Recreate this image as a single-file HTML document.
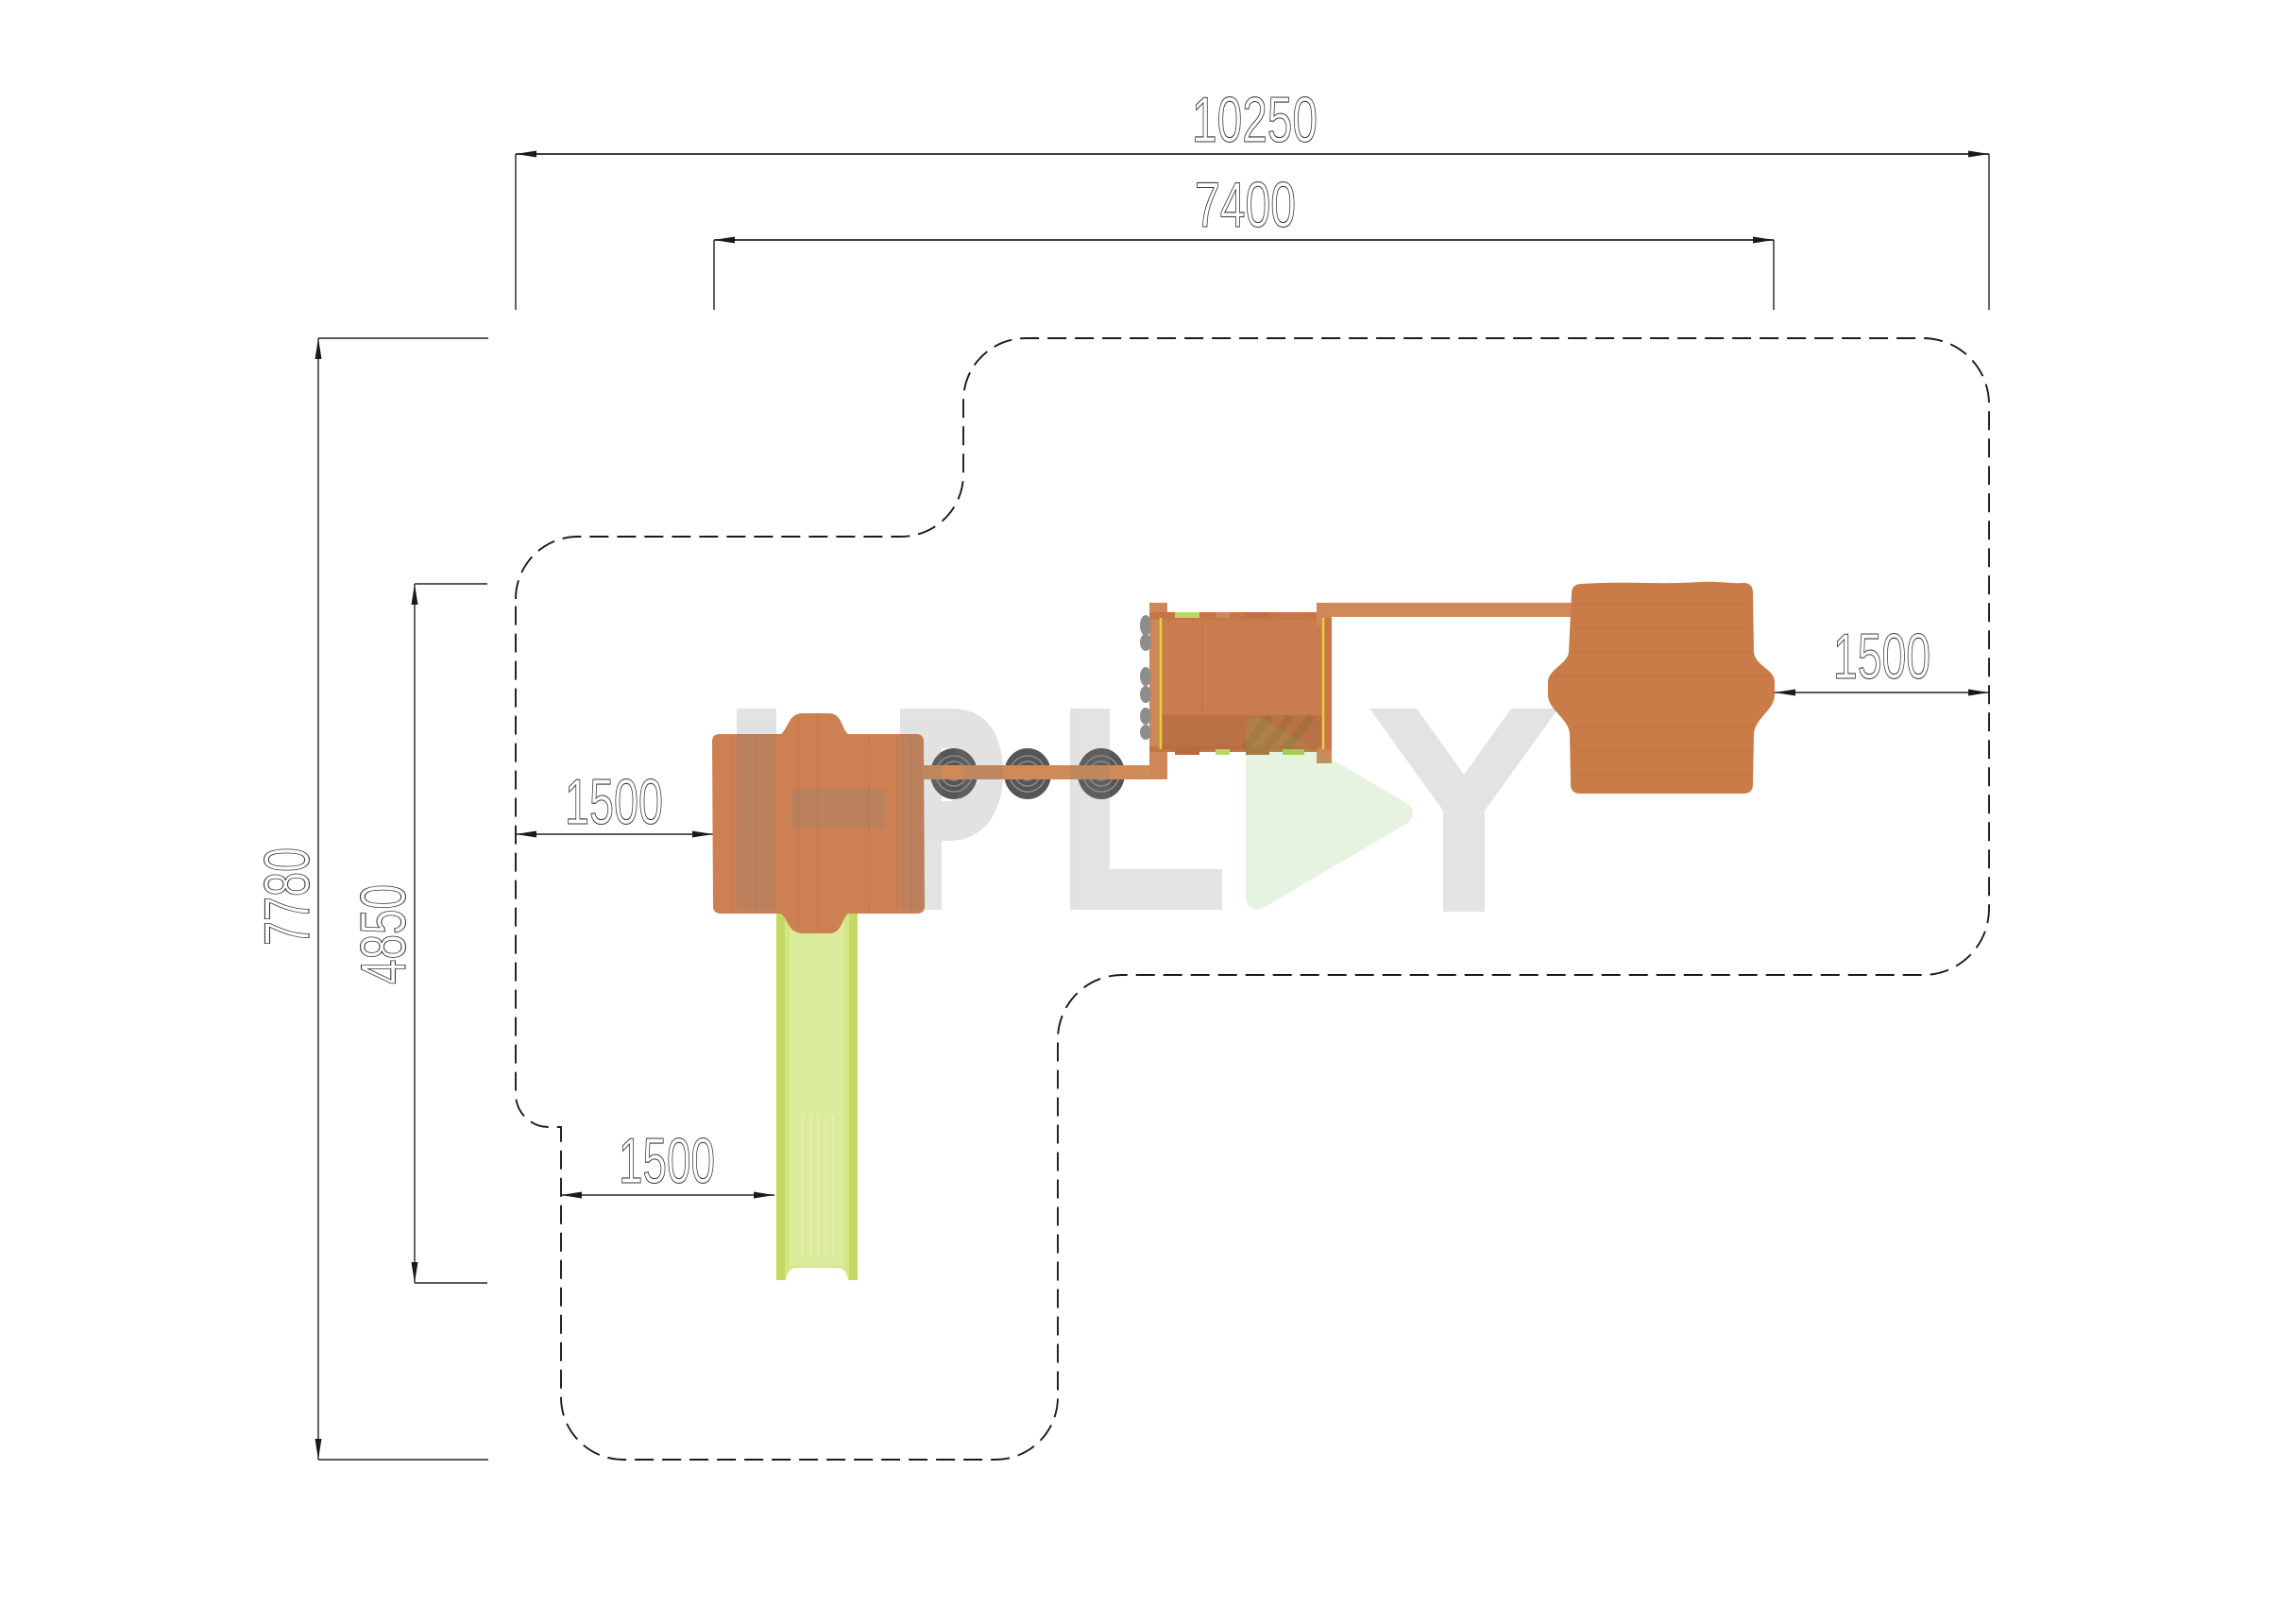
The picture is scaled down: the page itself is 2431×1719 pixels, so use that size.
<!DOCTYPE html>
<html><head><meta charset="utf-8"><style>
html,body{margin:0;padding:0;background:#fff;}
svg{display:block;}
.t{font-family:"Liberation Sans",sans-serif;font-size:68px;fill:none;stroke:#3a3a3a;stroke-width:1.1;}
</style></head><body>
<svg width="2431" height="1719" viewBox="0 0 2431 1719" xmlns="http://www.w3.org/2000/svg">
<rect width="2431" height="1719" fill="#fff"/>

<!-- dashed safety zone -->
<path d="M 546 634 A 66 66 0 0 1 612 568 L 954 568 A 66 66 0 0 0 1020 502 L 1020 424 A 66 66 0 0 1 1086 358 L 2036 358 A 70 70 0 0 1 2106 428 L 2106 962 A 70 70 0 0 1 2036 1032 L 1188 1032 A 68 68 0 0 0 1120 1100 L 1120 1479 A 66 66 0 0 1 1054 1545 L 660 1545 A 66 66 0 0 1 594 1479 L 594 1193 L 581 1193 A 35 35 0 0 1 546 1158 Z" fill="none" stroke="#1a1a1a" stroke-width="1.9" stroke-dasharray="20 9"/>

<!-- dimension lines -->
<g stroke="#222" stroke-width="1.4" fill="none">
  <line x1="546" y1="163" x2="2106" y2="163" stroke-width="1.7"/>
  <line x1="546" y1="163" x2="546" y2="328"/>
  <line x1="2106" y1="163" x2="2106" y2="328"/>
  <line x1="756" y1="254" x2="1878" y2="254" stroke-width="1.7"/>
  <line x1="756" y1="254" x2="756" y2="328"/>
  <line x1="1878" y1="254" x2="1878" y2="328"/>
  <line x1="337" y1="358" x2="337" y2="1545"/>
  <line x1="337" y1="358" x2="517" y2="358"/>
  <line x1="337" y1="1545" x2="517" y2="1545"/>
  <line x1="439" y1="618" x2="439" y2="1358"/>
  <line x1="439" y1="618" x2="516" y2="618"/>
  <line x1="439" y1="1358" x2="516" y2="1358"/>
  <line x1="546" y1="883" x2="755" y2="883"/>
  <line x1="594" y1="1265" x2="820" y2="1265"/>
  <line x1="1879" y1="733" x2="2106" y2="733"/>
</g>
<g fill="#1a1a1a">
  <polygon points="546,163 568,159.5 568,166.5"/>
  <polygon points="2106,163 2084,159.5 2084,166.5"/>
  <polygon points="756,254 778,250.5 778,257.5"/>
  <polygon points="1878,254 1856,250.5 1856,257.5"/>
  <polygon points="337,358 333.5,380 340.5,380"/>
  <polygon points="337,1545 333.5,1523 340.5,1523"/>
  <polygon points="439,618 435.5,640 442.5,640"/>
  <polygon points="439,1358 435.5,1336 442.5,1336"/>
  <polygon points="546,883 568,879.5 568,886.5"/>
  <polygon points="755,883 733,879.5 733,886.5"/>
  <polygon points="594,1265 616,1261.5 616,1268.5"/>
  <polygon points="820,1265 798,1261.5 798,1268.5"/>
  <polygon points="1879,733 1901,729.5 1901,736.5"/>
  <polygon points="2106,733 2084,729.5 2084,736.5"/>
</g>

<!-- labels -->
<text class="t" x="1262" y="150" textLength="133" lengthAdjust="spacingAndGlyphs">10250</text>
<text class="t" x="1265" y="240" textLength="107" lengthAdjust="spacingAndGlyphs">7400</text>
<text class="t" x="598" y="872" textLength="104" lengthAdjust="spacingAndGlyphs">1500</text>
<text class="t" x="655" y="1252" textLength="102" lengthAdjust="spacingAndGlyphs">1500</text>
<text class="t" x="1941" y="718" textLength="103" lengthAdjust="spacingAndGlyphs">1500</text>
<text class="t" transform="translate(327,1001) rotate(-90)" x="0" y="0" textLength="104" lengthAdjust="spacingAndGlyphs">7780</text>
<text class="t" transform="translate(429,1042) rotate(-90)" x="0" y="0" textLength="106" lengthAdjust="spacingAndGlyphs">4850</text>

<!-- slide -->
<path d="M 822 960 L 908 960 L 908 1355 L 898 1355 Q 896 1343 888 1342 L 842 1342 Q 834 1343 832 1355 L 822 1355 Z" fill="#d3e684"/>
<rect x="822" y="960" width="9" height="395" fill="#c3d965"/>
<rect x="899" y="960" width="9" height="395" fill="#c3d965"/>
<rect x="836" y="960" width="58" height="380" fill="#dbeb9c"/>
<g stroke="#e9f3c4" stroke-width="1.2" opacity="0.8">
  <line x1="850" y1="1180" x2="850" y2="1330"/>
  <line x1="858" y1="1180" x2="858" y2="1330"/>
  <line x1="866" y1="1180" x2="866" y2="1330"/>
  <line x1="874" y1="1180" x2="874" y2="1330"/>
  <line x1="882" y1="1180" x2="882" y2="1330"/>
</g>

<!-- left tower -->
<path d="M 762 777 L 827 777 C 835 770 835 755 850 755 L 877 755 C 892 755 890 770 898 777 L 970 777 Q 978 777 978 785 L 979 959 Q 979 967 971 967 L 898 967 C 890 974 892 988 877 988 L 850 988 C 835 988 835 974 827 967 L 763 967 Q 755 967 755 959 L 754 785 Q 754 777 762 777 Z" fill="#cd8052"/>
<g stroke="#b86d42" stroke-width="1" opacity="0.5">
  <line x1="775" y1="780" x2="775" y2="965"/>
  <line x1="800" y1="780" x2="800" y2="965"/>
  <line x1="845" y1="760" x2="845" y2="985"/>
  <line x1="866" y1="756" x2="866" y2="986"/>
  <line x1="920" y1="780" x2="920" y2="965"/>
  <line x1="950" y1="780" x2="950" y2="965"/>
  <line x1="965" y1="780" x2="965" y2="965"/>
</g>

<!-- stepping stones and beam -->
<g>
  <ellipse cx="1010" cy="819" rx="25" ry="27" fill="#565656"/>
  <ellipse cx="1088" cy="819" rx="25" ry="27" fill="#565656"/>
  <ellipse cx="1166" cy="819" rx="25" ry="27" fill="#565656"/>
  <g fill="none" stroke="#8c8c8c" stroke-width="1.5">
    <circle cx="1010" cy="819" r="19"/><circle cx="1010" cy="819" r="13"/><circle cx="1010" cy="819" r="7"/>
    <circle cx="1088" cy="819" r="19"/><circle cx="1088" cy="819" r="13"/><circle cx="1088" cy="819" r="7"/>
    <circle cx="1166" cy="819" r="19"/><circle cx="1166" cy="819" r="13"/><circle cx="1166" cy="819" r="7"/>
  </g>
</g>
<rect x="977" y="810" width="259" height="15" fill="#d08a58"/>

<!-- playhouse -->
<rect x="1217" y="638" width="19" height="187" fill="#cf8757"/>
<rect x="1228" y="654" width="180" height="139" fill="#c97c4e"/>
<rect x="1217" y="648" width="193" height="8" fill="#c57546"/>
<rect x="1217" y="790" width="193" height="6" fill="#c57546"/>
<rect x="1394" y="638" width="16" height="24" fill="#cf8757"/>
<rect x="1394" y="790" width="16" height="18" fill="#cf8757"/>
<rect x="1401" y="654" width="9" height="139" fill="#c8794a"/>
<rect x="1408" y="638" width="257" height="15" fill="#d08a58"/>
<line x1="1273" y1="660" x2="1273" y2="752" stroke="#b86e42" stroke-width="1.2" opacity="0.6"/>
<rect x="1230" y="757" width="170" height="36" fill="#7a4420" opacity="0.18"/>
<g stroke="#8a6a30" stroke-width="9" opacity="0.35">
  <line x1="1318" y1="792" x2="1345" y2="758"/>
  <line x1="1340" y1="792" x2="1367" y2="758"/>
  <line x1="1362" y1="792" x2="1389" y2="758"/>
</g>
<g fill="#8d8d8d">
  <ellipse cx="1213" cy="662" rx="6" ry="11"/>
  <ellipse cx="1213" cy="680" rx="6" ry="9"/>
  <ellipse cx="1213" cy="716" rx="6" ry="10"/>
  <ellipse cx="1213" cy="735" rx="6" ry="9"/>
  <ellipse cx="1213" cy="758" rx="6" ry="9"/>
  <ellipse cx="1213" cy="775" rx="6" ry="8"/>
</g>
<g>
  <rect x="1244" y="648" width="26" height="6" fill="#b6d86a"/>
  <rect x="1287" y="648" width="15" height="6" fill="#cf8a5c"/>
  <rect x="1319" y="648" width="25" height="6" fill="#bd6f45"/>
  <rect x="1358" y="648" width="23" height="6" fill="#c5784b"/>
  <rect x="1244" y="793" width="26" height="6" fill="#b86a3e"/>
  <rect x="1287" y="793" width="15" height="6" fill="#b6d86a"/>
  <rect x="1319" y="793" width="25" height="6" fill="#b06a40"/>
  <rect x="1358" y="793" width="23" height="6" fill="#a9d25a"/>
</g>
<line x1="1229" y1="654" x2="1229" y2="793" stroke="#e6cf3c" stroke-width="2.5"/>
<line x1="1401" y1="654" x2="1401" y2="793" stroke="#e6cf3c" stroke-width="2.5"/>

<!-- right tower -->
<path d="M 1675 618 C 1720 615 1760 619 1800 616 C 1820 615 1835 618 1846 617 Q 1856 617 1856 628 L 1857 690 C 1858 705 1879 708 1879 722 L 1879 735 C 1879 752 1858 760 1857 777 L 1856 830 Q 1856 840 1846 840 L 1673 840 Q 1663 840 1663 830 L 1662 777 C 1661 760 1639 752 1639 735 L 1639 722 C 1639 708 1660 703 1661 690 L 1664 628 Q 1664 618 1675 618 Z" fill="#c97b48"/>
<g stroke="#b86a3c" stroke-width="1" opacity="0.45">
  <line x1="1668" y1="640" x2="1852" y2="640"/>
  <line x1="1668" y1="665" x2="1852" y2="665"/>
  <line x1="1665" y1="690" x2="1855" y2="690"/>
  <line x1="1645" y1="715" x2="1875" y2="715"/>
  <line x1="1645" y1="740" x2="1875" y2="740"/>
  <line x1="1665" y1="770" x2="1855" y2="770"/>
  <line x1="1668" y1="795" x2="1852" y2="795"/>
  <line x1="1668" y1="820" x2="1852" y2="820"/>
</g>

<!-- watermark -->
<g fill="#808080" opacity="0.22">
  <rect x="780" y="750" width="42" height="213"/>
  <rect x="838" y="835" width="99" height="42"/>
  <path fill-rule="evenodd" d="M 953 750 L 1008 750 C 1045 750 1062 778 1062 818 C 1062 862 1040 890 1005 890 L 997 890 L 997 963 L 953 963 Z M 997 792 L 1005 792 C 1015 792 1020 805 1020 820 C 1020 838 1013 848 1005 848 L 997 848 Z"/>
  <path d="M 1133 750 L 1175 750 L 1175 920 L 1294 920 L 1294 963 L 1133 963 Z"/>
  <polygon points="1450,750 1500,750 1550,820 1600,750 1650,750 1572,858 1572,965 1528,965 1528,858"/>
</g>
<g opacity="0.18">
  <polygon points="1331,771 1331,951 1484,861" fill="#7fc060" stroke="#7fc060" stroke-width="24" stroke-linejoin="round"/>
</g>
</svg>
</body></html>
